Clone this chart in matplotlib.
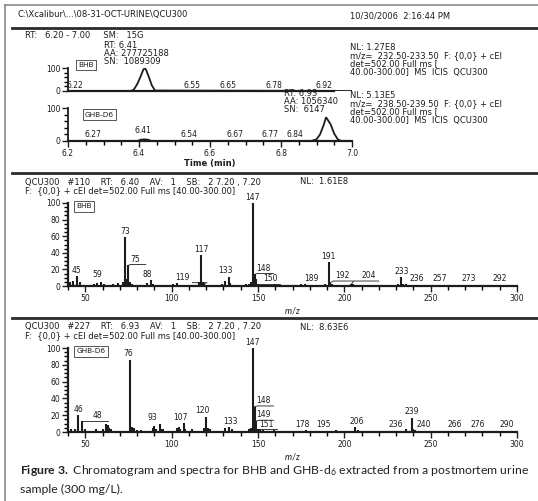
import numpy as np
import matplotlib.pyplot as plt
from matplotlib.ticker import MultipleLocator

plt.rcParams['font.family'] = ['DejaVu Sans']
plt.rcParams['mathtext.fontset'] = 'custom'
plt.rcParams['mathtext.rm'] = 'Lato'
plt.rcParams['mathtext.it'] = 'Lato:italic'
plt.rcParams['mathtext.bf'] = 'Lato:bold'

# chromatogram traces (time in min, relative abundance)
bhb_time = [6.20, 6.375, 6.385, 6.395, 6.405, 6.412, 6.416, 6.42, 6.428, 6.436, 6.445, 7.00]
bhb_int = [0, 0, 5, 30, 65, 92, 100, 92, 60, 25, 2, 0]
bhb_rt_labels = [6.22, 6.55, 6.65, 6.78, 6.92]

ghb_time = [6.20, 6.395, 6.405, 6.415, 6.425, 6.435, 6.885, 6.90, 6.91, 6.92,
            6.927, 6.94, 6.95, 6.96, 6.97, 7.00]
ghb_int = [0, 0, 4, 5, 4, 0, 0, 5, 20, 48, 72, 50, 22, 5, 0, 0]
ghb_rt_labels = [6.27, 6.41, 6.54, 6.67, 6.77, 6.84]

# spectrum of BHB (scan #110)
bhb_mz = [41, 43, 45, 47, 55, 57, 59, 61, 66, 69, 72, 73, 74, 75, 76, 77, 86, 88, 89,
          101, 103, 116, 117, 118, 119, 129, 131, 133, 134, 143, 145, 146, 147, 148,
          149, 150, 160, 175, 177, 189, 191, 192, 193, 204, 205, 217, 221, 231, 233,
          234, 236, 245, 257, 273, 281, 292]
bhb_ab = [5, 6, 12, 5, 3, 4, 5, 3, 3, 4, 5, 59, 8, 25, 5, 3, 4, 7, 3,
          3, 4, 5, 37, 5, 3, 3, 6, 11, 4, 3, 3, 5, 100, 14,
          8, 3, 2, 2, 2, 2, 29, 4, 2, 2, 2, 1.5, 1.5, 2, 11,
          2, 2, 1.5, 1.5, 1.5, 1.5, 1.5]

# spectrum of GHB-d6 (scan #227)
ghb_mz = [42, 44, 46, 48, 50, 56, 60, 62, 63, 64, 65, 76, 77, 78, 80, 82, 89, 90, 91,
          93, 94, 95, 103, 104, 105, 107, 108, 112, 119, 120, 121, 122, 131, 133, 135,
          145, 146, 147, 148, 149, 150, 151, 153, 159, 178, 195, 206, 208, 236, 239,
          240, 241, 266, 276, 290]
ghb_ab = [3, 3, 20, 13, 3, 3, 4, 10, 8, 5, 3, 86, 6, 5, 2, 2, 5, 7, 3,
          9, 4, 3, 5, 6, 4, 11, 4, 3, 5, 18, 5, 3, 5, 6, 3,
          3, 5, 100, 30, 13, 4, 3, 2, 2, 2, 2, 6, 2, 3, 17,
          3, 2, 1.5, 1.5, 1.5]

# peak labels: m/z -> (text x, text baseline) for the shifted ones
bhb_labels = [45, 59, 73, 75, 88, 119, 117, 133, 147, 148, 150, 189, 191, 192,
              204, 233, 236, 257, 273, 292]
bhb_offsets = {75: (79, 27), 119: (106, 5), 148: (153, 16), 150: (157, 4),
               189: (181, 4), 192: (199, 7), 204: (214, 7), 236: (242, 4),
               257: (255, 4), 273: (272, 4), 292: (290, 4), 59: (57, 9), 88: (86, 9),
               133: (131, 13)}
ghb_labels = [46, 48, 76, 93, 107, 120, 133, 147, 148, 149, 151, 178, 195, 206,
              236, 239, 240, 266, 276, 290]
ghb_offsets = {48: (57, 14), 76: (75, 88), 93: (89, 12), 107: (105, 12),
               120: (118, 20), 133: (134, 7), 148: (153, 32), 149: (153, 15),
               151: (155, 4), 178: (176, 4), 195: (188, 4), 206: (207, 7),
               236: (230, 4), 240: (246, 4), 266: (264, 4), 276: (277, 4),
               290: (294, 4)}
leader_peaks = {'bhb': [75, 119, 148, 150, 192, 204], 'ghb': [48, 148, 149, 151]}

W, H = 538, 501
INK = '#1c1c1c'
BOX = dict(boxstyle='square,pad=0.3', fc='white', ec='#555555', lw=0.7)
fig = plt.figure(figsize=(W / 100, H / 100), dpi=100)
fig.patch.set_facecolor('white')


def px_axes(x0, y0, x1, y1):
    ax = fig.add_axes([x0 / W, 1 - y1 / H, (x1 - x0) / W, (y1 - y0) / H])
    ax.set_facecolor('none')
    for s in ['top', 'right']:
        ax.spines[s].set_visible(False)
    for s in ['left', 'bottom']:
        ax.spines[s].set_linewidth(1.6)
        ax.spines[s].set_color(INK)
    ax.tick_params(colors=INK, labelsize=5.5, width=1.0, length=4, pad=1.5)
    ax.tick_params(which='minor', width=1.0, length=3)
    return ax


def ftext(x, y, s, **kw):
    kw.setdefault('fontsize', 6)
    kw.setdefault('color', INK)
    kw.setdefault('va', 'center')
    fig.text(x / W, 1 - y / H, s, **kw)


def hline(y, x0, x1, lw=2.0, color='#2a2a2a'):
    fig.add_artist(plt.Line2D([x0 / W, x1 / W], [1 - y / H, 1 - y / H], lw=lw, color=color))


# page frame and separators
fig.add_artist(plt.Line2D([5 / W, 5 / W], [0, 1 - 5 / H], lw=1.2, color='#8a8a8a'))
hline(5, 5, W, lw=1.2, color='#8a8a8a')
hline(28, 12, W, lw=2.0)
hline(173, 12, W, lw=2.0)
hline(318, 12, W, lw=2.0)

ftext(18, 15, 'C:\\Xcalibur\\...\\08-31-OCT-URINE\\QCU300')
ftext(350, 16, '10/30/2006  2:16:44 PM')

# chromatograms
ftext(25, 36, 'RT:   6.20 - 7.00     SM:   15G')
ftext(104, 45, 'RT: 6.41')
ftext(104, 54, 'AA: 277725188')
ftext(104, 62, 'SN:  1089309')
for i, s in enumerate(['NL: 1.27E8', 'm/z=  232.50-233.50  F: {0,0} + cEI',
                       'det=502.00 Full ms [', '40.00-300.00]  MS  ICIS  QCU300']):
    ftext(350, 47 + 8.5 * i, s)
ftext(284, 93, 'RT: 6.93')
ftext(284, 101, 'AA: 1056340')
ftext(284, 109, 'SN:  6147')
for i, s in enumerate(['NL: 5.13E5', 'm/z=  238.50-239.50  F: {0,0} + cEI',
                       'det=502.00 Full ms [', '40.00-300.00]  MS  ICIS  QCU300']):
    ftext(350, 95 + 8.5 * i, s)

for y0, y1, t, inten, rts, name, show_x in [
        (68, 91, bhb_time, bhb_int, bhb_rt_labels, 'BHB', False),
        (108, 141, ghb_time, ghb_int, ghb_rt_labels, 'GHB-D6', True)]:
    ax = px_axes(68, y0, 352, y1)
    ax.plot(t, inten, color=INK, lw=1.3, solid_joinstyle='miter')
    ax.set_xlim(6.2, 7.0)
    ax.set_ylim(0, 100)
    ax.set_yticks([0, 100])
    ax.yaxis.set_minor_locator(MultipleLocator(20))
    ax.spines['left'].set_linewidth(1.3)
    if show_x:
        ax.set_xticks([6.2, 6.4, 6.6, 6.8, 7.0])
        ax.set_xticklabels(['6.2', '6.4', '6.6', '6.8', '7.0'])
        ax.xaxis.set_minor_locator(MultipleLocator(0.05))
        ax.set_xlabel('Time (min)', fontsize=6, fontweight='bold', labelpad=1, color=INK)
    else:
        ax.tick_params(axis='x', which='both', length=0, labelbottom=False)
        ax.spines['bottom'].set_bounds(6.2, 6.95)
    for r in rts:
        yy = 18 if (name != 'BHB' and abs(r - 6.41) < 0.01) else 5
        ax.text(r, yy, f'{r:.2f}', fontsize=5.5, ha='center', va='bottom', color=INK)
    if name == 'BHB':
        ax.text(6.23, 112, 'BHB', fontsize=5.3, color=INK, va='center', bbox=BOX)
    else:
        ax.text(6.248, 80, 'GHB-D6', fontsize=5.3, color=INK, va='center', bbox=BOX)

# mass spectra
for (y0, y1, mz, ab, labels, offs, key, scan, rt, nl, name) in [
        (203, 286, bhb_mz, bhb_ab, bhb_labels, bhb_offsets, 'bhb', '#110', '6.40', '1.61E8', 'BHB'),
        (348, 432, ghb_mz, ghb_ab, ghb_labels, ghb_offsets, 'ghb', '#227', '6.93', '8.63E6', 'GHB-D6')]:
    ftext(25, y0 - 21, f'QCU300   {scan}    RT:   {rt}    AV:   1    SB:   2 7.20 , 7.20')
    ftext(300, y0 - 21, f'NL:  {nl}')
    ftext(25, y0 - 12, 'F:  {0,0} + cEI det=502.00 Full ms [40.00-300.00]')
    ax = px_axes(68, y0, 517, y1)
    ax.vlines(mz, 0, ab, color=INK, lw=1.5)
    ax.set_xlim(40, 300)
    ax.set_ylim(0, 100)
    ax.set_xticks([50, 100, 150, 200, 250, 300])
    ax.xaxis.set_minor_locator(MultipleLocator(10))
    ax.set_yticks([0, 20, 40, 60, 80, 100])
    ax.yaxis.set_minor_locator(MultipleLocator(5))
    ax.set_xlabel('$\\mathit{m/z}$', fontsize=6.5, labelpad=2, color=INK)
    heights = dict(zip(mz, ab))
    for m in labels:
        h = heights[m]
        tx, ty = offs.get(m, (m, h + 1.5))
        ax.text(tx, ty, str(m), fontsize=5.5, ha='center', va='bottom', color=INK)
        if m in leader_peaks[key]:
            ax.plot([m, m + 1.5, tx + 6], [h, ty - 1, ty - 1], color=INK, lw=0.6)
    ax.text(45, 96, name, fontsize=5.3, color=INK, va='center', bbox=BOX)

# caption
fig.text(20 / W, 1 - 470 / H, '$\\mathbf{Figure\\ 3.}$ Chromatogram and spectra for BHB and '
         'GHB-d$_6$ extracted from a postmortem urine', fontsize=8.8, family='Lato',
         va='center', color='#222222')
fig.text(20 / W, 1 - 489 / H, 'sample (300 mg/L).', fontsize=8.8, family='Lato',
         va='center', color='#222222')

fig.savefig('out.png', dpi=100, facecolor='white')
